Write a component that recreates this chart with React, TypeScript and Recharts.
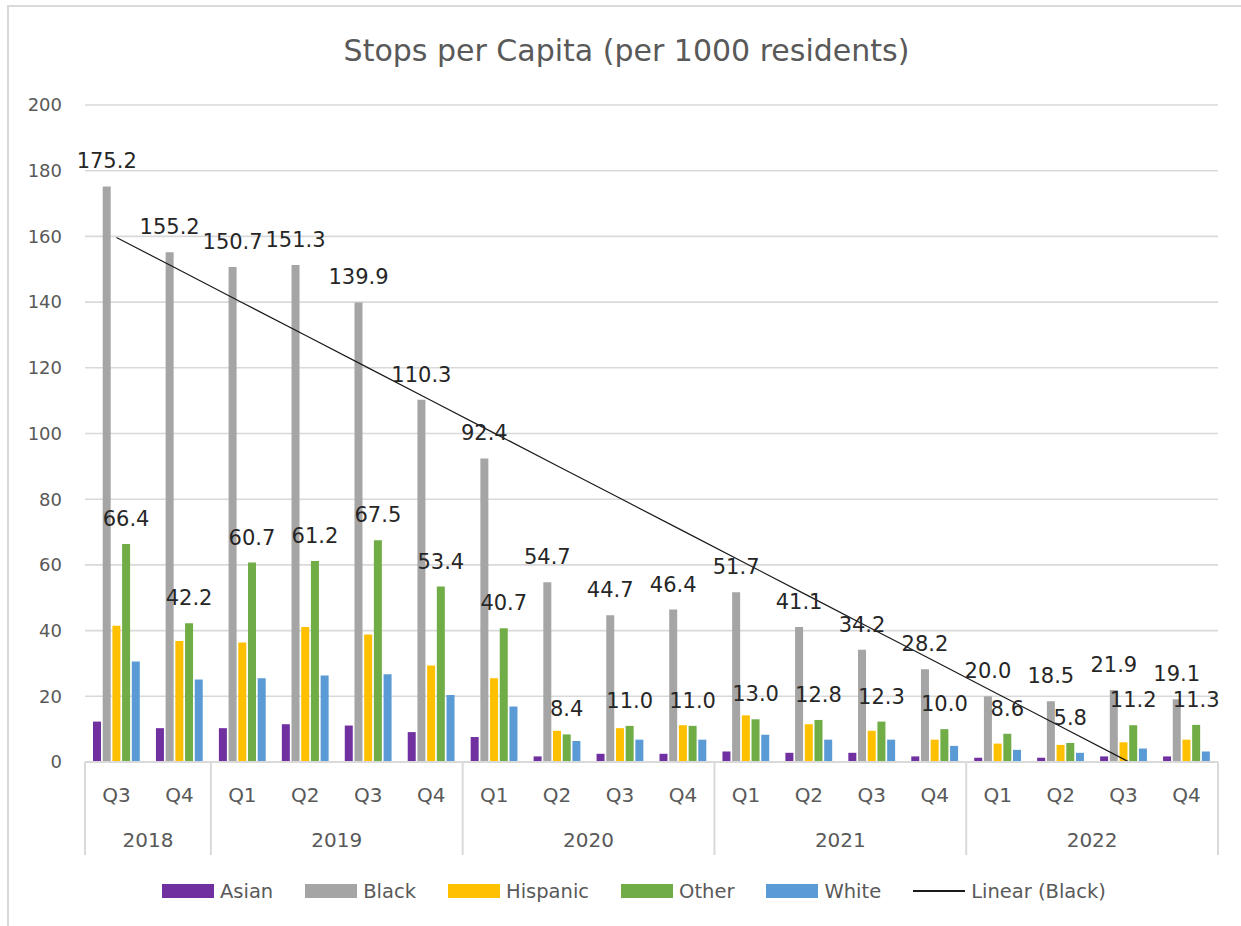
import React from 'react';
import { ComposedChart, Bar, Line, XAxis, YAxis, CartesianGrid, LabelList } from 'recharts';

const quarters = ['Q3', 'Q4', 'Q1', 'Q2', 'Q3', 'Q4', 'Q1', 'Q2', 'Q3', 'Q4', 'Q1', 'Q2', 'Q3', 'Q4', 'Q1', 'Q2', 'Q3', 'Q4'];
const years = ['2018', '2018', '2019', '2019', '2019', '2019', '2020', '2020', '2020', '2020', '2021', '2021', '2021', '2021', '2022', '2022', '2022', '2022'];

const asian = [12.3, 10.3, 10.3, 11.5, 11.1, 9.1, 7.6, 1.7, 2.5, 2.5, 3.2, 2.8, 2.8, 1.7, 1.3, 1.3, 1.7, 1.7];
const black = [175.2, 155.2, 150.7, 151.3, 139.9, 110.3, 92.4, 54.7, 44.7, 46.4, 51.7, 41.1, 34.2, 28.2, 20.0, 18.5, 21.9, 19.1];
const hispanic = [41.5, 36.8, 36.4, 41.1, 38.8, 29.4, 25.5, 9.5, 10.3, 11.2, 14.2, 11.5, 9.5, 6.8, 5.6, 5.2, 6.0, 6.8];
const other = [66.4, 42.2, 60.7, 61.2, 67.5, 53.4, 40.7, 8.4, 11.0, 11.0, 13.0, 12.8, 12.3, 10.0, 8.6, 5.8, 11.2, 11.3];
const white = [30.6, 25.1, 25.5, 26.3, 26.7, 20.4, 16.9, 6.4, 6.8, 6.8, 8.3, 6.8, 6.8, 4.9, 3.7, 2.8, 4.1, 3.2];
// Linear (Black) trendline values
const linearBlack = [159.67, 149.75, 139.82, 129.9, 119.97, 110.05, 100.12, 90.2, 80.27, 70.35, 60.42, 50.5, 40.57, 30.65, 20.72, 10.8, 0.87, -9.05];

const yTicks = [0, 20, 40, 60, 80, 100, 120, 140, 160, 180, 200];

const series = [
  { key: 'Asian', color: '#7030A0', values: asian, label: false },
  { key: 'Black', color: '#A5A5A5', values: black, label: true },
  { key: 'Hispanic', color: '#FFC000', values: hispanic, label: false },
  { key: 'Other', color: '#70AD47', values: other, label: true },
  { key: 'White', color: '#5B9BD5', values: white, label: false },
];

const data = quarters.map((q, i) => {
  const row: any = { id: `${years[i]} ${q}`, trend: linearBlack[i] };
  series.forEach((s) => {
    row[s.key] = s.values[i];
  });
  return row;
});

const FONT = '"DejaVu Sans", sans-serif';
const AXIS_COLOR = '#d9d9d9';
const TEXT_COLOR = '#595959';

const CategoryTick = (props: any) => {
  const { x, y, payload } = props;
  const i: number = payload?.index ?? props.index ?? 0;
  const half: number = payload?.offset ?? 31.47;
  const isFirst = i === 0 || years[i] !== years[i - 1];
  const isLast = i === years.length - 1;
  let groupSize = 0;
  if (isFirst) {
    for (let j = i; j < years.length && years[j] === years[i]; j++) groupSize++;
  }
  return (
    <g>
      <text x={x} y={y + 40} textAnchor="middle" fill={TEXT_COLOR} fontSize={20} fontFamily={FONT}>
        {quarters[i]}
      </text>
      {isFirst && (
        <line x1={x - half} x2={x - half} y1={y} y2={y + 93} stroke={AXIS_COLOR} strokeWidth={2} />
      )}
      {isFirst && (
        <text x={x - half + groupSize * half} y={y + 85} textAnchor="middle" fill={TEXT_COLOR} fontSize={20} fontFamily={FONT}>
          {years[i]}
        </text>
      )}
      {isLast && (
        <line x1={x + half} x2={x + half} y1={y} y2={y + 93} stroke={AXIS_COLOR} strokeWidth={2} />
      )}
    </g>
  );
};

const fmt = (v: any) => (typeof v === 'number' ? v.toFixed(1) : v);

export default function App() {
  return (
    <div
      style={{
        position: 'absolute',
        left: 0,
        top: 0,
        width: 1241,
        height: 926,
        overflow: 'hidden',
        background: '#fff',
        fontFamily: FONT,
      }}
    >
      <div
        style={{
          position: 'absolute',
          left: 7,
          top: 5,
          width: 1300,
          height: 1000,
          borderLeft: `2px solid ${AXIS_COLOR}`,
          borderTop: `2px solid ${AXIS_COLOR}`,
        }}
      />
      <div
        style={{
          position: 'absolute',
          left: 626.5,
          top: 35,
          transform: 'translateX(-50%)',
          whiteSpace: 'nowrap',
          fontSize: 30,
          lineHeight: '31px',
          color: TEXT_COLOR,
        }}
      >
        Stops per Capita (per 1000 residents)
      </div>
      <div style={{ position: 'absolute', left: 0, top: 0 }}>
        <ComposedChart
          width={1241}
          height={926}
          data={data}
          margin={{ top: 105, right: 23, bottom: 71, left: 0 }}
          barCategoryGap={8}
          barGap={1.7}
          style={{ fontFamily: FONT }}
        >
          <CartesianGrid vertical={false} stroke={AXIS_COLOR} strokeWidth={1.6} />
          <XAxis
            dataKey="id"
            interval={0}
            height={93}
            tickLine={false}
            tickSize={0}
            tickMargin={0}
            axisLine={{ stroke: AXIS_COLOR, strokeWidth: 2 }}
            tick={<CategoryTick />}
          />
          <YAxis
            width={85}
            domain={[0, 200]}
            ticks={yTicks}
            allowDataOverflow
            axisLine={false}
            tickLine={false}
            tickSize={0}
            tickMargin={23}
            tick={{ fill: TEXT_COLOR, fontSize: 18, fontFamily: FONT }}
          />
          {series.map((s) => (
            <Bar key={s.key} dataKey={s.key} fill={s.color} isAnimationActive={false}>
              {s.label && (
                <LabelList
                  dataKey={s.key}
                  position="top"
                  offset={18}
                  formatter={fmt}
                  fill="#262626"
                  fontSize={21}
                  fontFamily={FONT}
                />
              )}
            </Bar>
          ))}
          <Line
            dataKey="trend"
            stroke="#1a1a1a"
            strokeWidth={1.2}
            dot={false}
            activeDot={false}
            isAnimationActive={false}
            legendType="line"
          />
        </ComposedChart>
      </div>
      <div
        style={{
          position: 'absolute',
          left: 162,
          top: 876,
          height: 30,
          display: 'flex',
          alignItems: 'center',
          gap: 32,
          fontSize: 19.5,
          color: TEXT_COLOR,
          whiteSpace: 'nowrap',
        }}
      >
        {series.map((s) => (
          <div key={s.key} style={{ display: 'flex', alignItems: 'center', gap: 6 }}>
            <div style={{ width: 52, height: 14, background: s.color }} />
            <span>{s.key}</span>
          </div>
        ))}
        <div style={{ display: 'flex', alignItems: 'center', gap: 6 }}>
          <div style={{ width: 52, height: 2, background: '#1a1a1a' }} />
          <span>Linear (Black)</span>
        </div>
      </div>
    </div>
  );
}
